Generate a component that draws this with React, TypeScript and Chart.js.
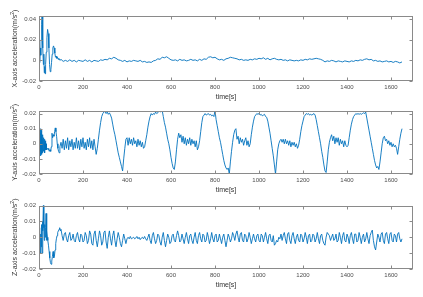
import React, { useEffect, useRef } from "react";
import { Chart, registerables } from "chart.js";

Chart.register(...registerables);

// ---------- data ----------
const xTickValues = [0, 200, 400, 600, 800, 1000, 1200, 1400, 1600];
const xTitle = "time[s]";

// X-axis acceleration
const xAccEarlyTimes = [0, 2, 4, 6, 8, 10, 12, 14, 16, 18, 20, 22, 24, 26, 28, 30, 33, 36, 39, 42, 45, 48, 51, 54, 57, 60, 63, 66, 69, 72, 75, 78, 81, 84, 87, 90, 95];
const xAccEarly = [0.002, 0.008, -0.002, 0.012, 0.005, 0.02, 0.035, 0.045, 0.03, 0.012, -0.004, 0.006, -0.012, -0.006, -0.013, -0.004,
  0.008, 0.022, 0.03, 0.026, 0.012, -0.004, -0.011, -0.009, -0.002, 0.006, 0.012, 0.014, 0.012, 0.007, 0.003, 0.004, 0.002, 0.003, 0.001, 0.002, 0.0];
// from t = 100 s, every 10 s
const xAccLate = [
  0.001, -0.001, 0.0, -0.001, 0.0005, -0.001, 0.0, -0.0015, 0.0, -0.0005,
  -0.001, 0.0005, -0.001, 0.0, -0.0015, 0.0, -0.0005, -0.001, 0.0005, 0.0,
  0.001, 0.0005, 0.002, 0.0015, 0.003, 0.002, 0.0005, 0.0, -0.001, 0.0,
  -0.0015, -0.0005, -0.001, 0.0, -0.0005, -0.001, 0.0, -0.0015, -0.001, -0.002,
  -0.0015, -0.002, -0.0005, 0.0, 0.0015, 0.001, 0.003, 0.0025, 0.0035, 0.002,
  0.0005, 0.0, 0.0005, -0.0005, 0.001, 0.0, 0.0005, -0.0005, 0.0, 0.001,
  0.0, 0.0005, -0.0005, 0.001, 0.0, 0.0015, 0.001, 0.003, 0.0035, 0.0025,
  0.003, 0.0015, 0.0005, 0.001, 0.0, 0.0015, 0.002, 0.003, 0.0025, 0.002,
  0.0015, 0.0005, 0.001, 0.0, 0.0005, 0.0, 0.001, 0.0005, 0.0015, 0.001,
  0.002, 0.0015, 0.0025, 0.001, 0.002, 0.0005, 0.0015, 0.002, 0.001, 0.0005,
  0.001, 0.0, 0.0005, -0.0005, 0.0005, 0.0, -0.0005, 0.0, -0.0005, 0.0005,
  0.0, 0.001, 0.0005, 0.0015, 0.001, 0.0015, 0.002, 0.0015, 0.001, 0.0,
  -0.0015, -0.0005, -0.001, 0.0, -0.0005, -0.0015, -0.0005, -0.001, -0.0015, -0.0005,
  -0.001, -0.0015, -0.0005, -0.001, 0.0, -0.0005, 0.0005, 0.0, 0.001, 0.0015,
  0.0005, 0.001, -0.0005, 0.0, -0.001, -0.0005, -0.0015, -0.001, -0.0005, -0.0015,
  -0.001, -0.002, -0.001, -0.0015, -0.0025, -0.0015,
];

// Y-axis acceleration
const yAccEarlyTimes = [0, 1, 2, 3, 4, 5, 6, 7, 8, 9, 10, 11, 12, 13, 14, 15, 16, 17, 18, 19, 20, 21, 22, 23, 24, 25, 26, 27, 28, 29, 30, 31, 32, 33, 34, 35,
  38, 41, 44, 47, 50, 53, 56, 59, 62, 65, 68, 71, 74, 77, 80, 83, 86, 89, 92, 95];
const yAccEarly = [0.002, -0.004, 0.006, -0.006, 0.008, -0.002, 0.01, -0.008, 0.004, -0.005, 0.007, -0.003, 0.009, -0.007, 0.003, -0.004, 0.006, -0.006,
  0.005, -0.002, 0.004, -0.005, 0.003, -0.003, 0.002, -0.004, 0.003, -0.006, 0.001, -0.003, 0.002, -0.004, 0.0, -0.003, -0.001, -0.004,
  -0.003, -0.004, -0.003, -0.005, -0.004, -0.005, -0.002, 0.007, 0.004, 0.006, 0.005, 0.008, 0.0105, 0.008, 0.005, 0.0, -0.003, -0.005, -0.006, -0.002];
// from t = 100 s, every 5 s
const yAccLate = [
  0.001, -0.003, 0.003, -0.004, 0.002, -0.003, 0.004, -0.004, 0.002, -0.002, 0.003, -0.004, 0.001, -0.003, 0.004, -0.003,
  0.002, -0.004, 0.003, -0.002, 0.004, -0.003, 0.001, -0.004, 0.003, -0.002, 0.004, -0.003, 0.002, -0.004, 0.003, -0.002,
  -0.007, -0.003, 0.003, 0.009, 0.014, 0.018, 0.02, 0.021,
  0.0215, 0.02, 0.021, 0.0195, 0.0205, 0.019,
  0.017, 0.013, 0.009, 0.006, 0.002, -0.002, -0.006, -0.009, -0.012, -0.015, -0.018,
  -0.01, -0.003, 0.003, 0.004, -0.001, 0.004, 0.0, 0.003, -0.001, 0.004, 0.0, 0.002, -0.002, 0.003, -0.001, 0.002, -0.002, 0.001, -0.003, -0.002,
  0.002, 0.006, 0.011, 0.015, 0.018, 0.02, 0.019,
  0.02, 0.0195, 0.021, 0.02, 0.0205, 0.022, 0.021, 0.0215, 0.022,
  0.018, 0.014, 0.011, 0.007, 0.003, 0.0, -0.004, -0.009, -0.013, -0.016, -0.017,
  -0.012, -0.004, 0.003, 0.007, 0.004, 0.006, 0.001, 0.005, 0.0, 0.004, -0.001, 0.003, 0.0, 0.004, -0.001, 0.003, 0.0, 0.002, -0.002, 0.002, -0.004, -0.002,
  0.002, 0.008, 0.014, 0.018, 0.019,
  0.02, 0.019, 0.0195, 0.02, 0.019, 0.0195, 0.0185, 0.019, 0.018, 0.022,
  0.016, 0.012, 0.008, 0.004, 0.001, -0.003, -0.007, -0.011, -0.014, -0.016, -0.017, -0.016, -0.02,
  -0.012, -0.005, 0.001, 0.006, 0.009, 0.01, 0.003, 0.005, 0.0, 0.004, 0.001, 0.003, -0.001, 0.002, 0.004, -0.001, 0.002, -0.002, 0.0,
  0.006, 0.011, 0.015, 0.018, 0.019,
  0.02, 0.0195, 0.02, 0.019, 0.0195, 0.0185, 0.019, 0.0195, 0.018, 0.0175,
  0.015, 0.011, 0.007, 0.002, -0.003, -0.008, -0.014, -0.02,
  -0.012, -0.004, 0.0, 0.002, 0.003, 0.001, 0.003, 0.0, 0.003, 0.0, 0.002, -0.001, 0.002, -0.002, 0.001, -0.001, 0.001, -0.002, 0.0, -0.003, -0.001,
  0.003, 0.008, 0.012, 0.015, 0.018, 0.019,
  0.02, 0.0195, 0.02, 0.019, 0.0195, 0.019, 0.0195, 0.02, 0.019,
  0.016, 0.012, 0.008, 0.004, 0.0, -0.005, -0.009, -0.014, -0.018,
  -0.019, -0.012, -0.004, 0.001, 0.004, 0.006, 0.002, 0.005, 0.0, 0.004, 0.001, 0.004, -0.001, 0.003, 0.0, 0.002, -0.002, 0.002, -0.001, -0.002, -0.001,
  0.004, 0.009, 0.013, 0.016, 0.018, 0.019,
  0.02, 0.0195, 0.02, 0.0195, 0.02, 0.0195, 0.02, 0.0205, 0.02, 0.021,
  0.017, 0.013, 0.009, 0.005, 0.001, -0.003, -0.007, -0.011, -0.014, -0.016, -0.015, -0.017,
  -0.012, -0.006, 0.0, 0.004, 0.005, 0.002, 0.003, 0.0, 0.002, -0.001, 0.001, -0.002, 0.0, -0.002, -0.001, -0.003, -0.007, -0.002, 0.003, 0.007, 0.01,
];

// Z-axis acceleration
const zAccEarlyTimes = [0, 2, 4, 6, 8, 10, 12, 14, 16, 18, 20, 22, 24, 26, 28, 30, 32, 34, 36, 38, 40,
  43, 46, 49, 52, 55, 58, 61, 64, 67, 70, 73, 76, 79, 82, 85, 88, 91, 94, 97];
const zAccEarly = [0.006, -0.008, 0.004, -0.01, 0.002, -0.006, 0.008, -0.01, 0.01, 0.004, 0.021, 0.006, -0.002, 0.008, 0.0, 0.006, 0.015, -0.002, 0.004, 0.0, -0.002,
  -0.005, -0.009, -0.013, -0.016, -0.017, -0.015, -0.012, -0.009, -0.013, -0.012, -0.008, -0.004, -0.001, 0.001, 0.003, 0.004, 0.005, 0.006, 0.004];
// from t = 100 s, every 5 s
const zAccLate = [
  0.005, 0.001, -0.002, 0.002, 0.003, -0.001, -0.003, 0.001, 0.003, -0.002, -0.001, 0.002, -0.002, -0.003, 0.001, 0.003, -0.001, -0.003, 0.002, 0.001,
  -0.003, -0.002, 0.003, 0.001, -0.004, -0.002, 0.004, 0.002, -0.004, -0.005, 0.002, 0.004, -0.002, -0.006, -0.001, 0.004, 0.001, -0.005, -0.003, 0.003,
  0.004, -0.003, -0.007, 0.0, 0.004, -0.001, -0.005, 0.001, 0.004, -0.002, -0.006, -0.001, 0.003, 0.0, -0.004, -0.006, -0.002, 0.002, -0.001, -0.004,
  -0.001, 0.0, -0.001, 0.0005, -0.001, -0.0005, 0.0, -0.001, -0.0005, 0.0005, -0.001, 0.0, -0.0015, -0.0005, 0.0, -0.001, 0.0005, -0.001, -0.002, 0.0,
  0.002, -0.002, -0.004, 0.001, 0.003, -0.001, -0.004, -0.002, 0.002, 0.001, -0.003, -0.005, 0.0, 0.003, -0.002, -0.006, -0.002, 0.002, 0.0, -0.004,
  -0.003, 0.001, 0.002, -0.002, -0.003, 0.001, 0.004, 0.001, -0.003, -0.002, 0.002, -0.001, -0.004, 0.0, 0.003, -0.001, -0.004, 0.001, 0.002, -0.002,
  -0.004, 0.0, 0.003, -0.002, -0.004, 0.001, 0.003, -0.001, -0.003, 0.002, 0.001, -0.003, -0.002, 0.003, 0.0, -0.004, -0.001, 0.003, -0.001, -0.003,
  0.001, 0.002, -0.003, -0.002, 0.002, -0.001, -0.004, 0.0, 0.002, -0.002, -0.006, -0.002, 0.002, 0.0, -0.003, -0.001, 0.003, 0.001, -0.002, 0.002,
  0.004, 0.0, -0.003, 0.002, 0.003, -0.002, -0.003, 0.002, 0.001, -0.003, -0.001, 0.003, 0.0, -0.004, -0.001, 0.002, -0.001, -0.003, 0.001, 0.002,
  -0.002, -0.003, 0.002, 0.001, -0.003, 0.0, 0.003, -0.001, -0.004, 0.001, 0.002, -0.002, -0.003, 0.001, -0.005, -0.004, -0.002, -0.003, 0.0, -0.001,
  0.002, -0.002, 0.001, 0.003, -0.001, -0.004, 0.002, 0.003, -0.002, -0.004, 0.001, 0.003, -0.001, -0.004, 0.0, 0.002, -0.002, -0.003, 0.002, 0.001,
  -0.003, -0.001, 0.003, 0.0, -0.004, 0.001, 0.002, -0.003, -0.002, 0.002, 0.001, -0.003, -0.001, 0.003, -0.001, -0.004, 0.001, 0.002, -0.002, -0.004,
  -0.005, 0.0, 0.003, 0.002, 0.001, -0.002, 0.0, 0.002, -0.002, -0.001, 0.002, -0.003, -0.002, 0.003, 0.0, -0.004, 0.001, 0.003, -0.002, -0.003,
  0.002, 0.0, -0.004, 0.001, 0.003, -0.001, -0.004, 0.002, 0.002, -0.003, -0.002, 0.003, 0.0, -0.004, 0.0, 0.002, -0.003, -0.001, 0.003, -0.001,
  -0.004, 0.001, 0.003, 0.0045, -0.002, -0.006, -0.008, -0.003, 0.002, 0.0, -0.003, 0.002, 0.003, -0.002, -0.004, 0.002, 0.003, -0.001, -0.004, 0.002,
  0.003, -0.002, -0.003, 0.002, 0.001, -0.003, 0.002, 0.003, -0.001, -0.003, -0.001,
];

const yTitles = ["X-axis acceleration(m/s", "Y-axis acceleration(m/s", "Z-axis acceleration(m/s"];
const yTickValuesX = [-0.02, 0, 0.02, 0.04];
const yTickLabelsX = ["-0.02", "0", "0.02", "0.04"];
const yTickValuesYZ = [-0.02, -0.01, 0, 0.01, 0.02];
const yTickLabelsYZ = ["-0.02", "-0.01", "0", "0.01", "0.02"];

// ---------- style / layout ----------
const W = 423;
const H = 297;
const FONT = '"Liberation Sans", Arial, Helvetica, sans-serif';
const LINE = "#0072BD";
const BOX = "#8a8a8a";
const TICK_TXT = "#4d4d4d";
const TITLE_TXT = "#333333";
const X_AXIS_H = 12;

function buildPoints(earlyT: number[], earlyV: number[], late: number[], start: number, step: number) {
  const pts = earlyT.map((t, i) => ({ x: t, y: earlyV[i] }));
  late.forEach((v, i) => pts.push({ x: start + i * step, y: v }));
  return pts;
}

const panels = [
  { key: "x", title: yTitles[0], pts: () => buildPoints(xAccEarlyTimes, xAccEarly, xAccLate, 100, 10),
    yMin: -0.02, yMax: 0.043, ticks: yTickValuesX, labels: yTickLabelsX, top: 16, bottom: 81 },
  { key: "y", title: yTitles[1], pts: () => buildPoints(yAccEarlyTimes, yAccEarly, yAccLate, 100, 5),
    yMin: -0.02, yMax: 0.0217, ticks: yTickValuesYZ, labels: yTickLabelsYZ, top: 111, bottom: 174 },
  { key: "z", title: yTitles[2], pts: () => buildPoints(zAccEarlyTimes, zAccEarly, zAccLate, 100, 5),
    yMin: -0.02, yMax: 0.02, ticks: yTickValuesYZ, labels: yTickLabelsYZ, top: 205.5, bottom: 269 },
];

type PanelCfg = typeof panels[number];

function framePlugin(p: PanelCfg) {
  return {
    id: "frame_" + p.key,
    afterDraw(chart: any) {
      const { ctx, chartArea: a, scales } = chart;
      ctx.save();
      // box
      ctx.strokeStyle = BOX;
      ctx.lineWidth = 1;
      const l = Math.round(a.left) + 0.5, r = Math.round(a.right) - 0.5;
      const t = Math.round(a.top) + 0.5, b = Math.round(a.bottom) - 0.5;
      ctx.strokeRect(l, t, r - l, b - t);
      // inward ticks
      ctx.beginPath();
      xTickValues.forEach((v) => {
        const x = Math.round(scales.x.getPixelForValue(v)) + 0.5;
        ctx.moveTo(x, b); ctx.lineTo(x, b - 3);
        ctx.moveTo(x, t); ctx.lineTo(x, t + 3);
      });
      p.ticks.forEach((v) => {
        const y = Math.round(scales.y.getPixelForValue(v)) + 0.5;
        ctx.moveTo(l, y); ctx.lineTo(l + 3, y);
        ctx.moveTo(r, y); ctx.lineTo(r - 3, y);
      });
      ctx.stroke();
      // x title
      ctx.fillStyle = TITLE_TXT;
      ctx.font = `7px ${FONT}`;
      ctx.textAlign = "center";
      ctx.textBaseline = "middle";
      ctx.fillText(xTitle, (a.left + a.right) / 2, a.bottom + 16);
      // y title with superscript
      ctx.translate(15.5, (a.top + a.bottom) / 2);
      ctx.rotate(-Math.PI / 2);
      ctx.font = `7px ${FONT}`;
      const w1 = ctx.measureText(p.title).width;
      const w3 = ctx.measureText(")").width;
      ctx.font = `5px ${FONT}`;
      const w2 = ctx.measureText("2").width;
      const total = w1 + w2 + w3;
      let x0 = -total / 2;
      ctx.textAlign = "left";
      ctx.font = `7px ${FONT}`;
      ctx.fillText(p.title, x0, 0);
      ctx.font = `5px ${FONT}`;
      ctx.fillText("2", x0 + w1, -2.5);
      ctx.font = `7px ${FONT}`;
      ctx.fillText(")", x0 + w1 + w2, 0);
      ctx.restore();
    },
  };
}

function Panel({ p }: { p: PanelCfg }) {
  const ref = useRef<HTMLCanvasElement | null>(null);
  useEffect(() => {
    if (!ref.current) return;
    const chart = new Chart(ref.current, {
      type: "line",
      data: {
        datasets: [
          {
            data: p.pts(),
            borderColor: LINE,
            borderWidth: 0.9,
            pointRadius: 0,
            tension: 0,
            fill: false,
          },
        ],
      },
      options: {
        animation: false,
        responsive: false,
        parsing: false,
        events: [],
        layout: { padding: { left: 0, right: 10, top: p.top, bottom: H - p.bottom - X_AXIS_H } },
        plugins: { legend: { display: false }, tooltip: { enabled: false }, title: { display: false } },
        scales: {
          x: {
            type: "linear",
            min: 0,
            max: 1700,
            grid: { display: false, drawTicks: false },
            border: { display: false },
            afterBuildTicks: (axis: any) => {
              axis.ticks = xTickValues.map((v) => ({ value: v }));
            },
            afterFit: (axis: any) => {
              axis.height = X_AXIS_H;
            },
            ticks: {
              padding: 3,
              maxRotation: 0,
              autoSkip: false,
              color: TICK_TXT,
              font: { family: FONT, size: 6 },
              callback: (v: any) => String(v),
            },
          },
          y: {
            type: "linear",
            min: p.yMin,
            max: p.yMax,
            grid: { display: false, drawTicks: false },
            border: { display: false },
            afterBuildTicks: (axis: any) => {
              axis.ticks = p.ticks.map((v) => ({ value: v }));
            },
            afterFit: (axis: any) => {
              axis.width = 39;
            },
            ticks: {
              padding: 3,
              autoSkip: false,
              color: TICK_TXT,
              font: { family: FONT, size: 6 },
              callback: (_v: any, i: number) => p.labels[i],
            },
          },
        },
      },
      plugins: [framePlugin(p)],
    } as any);
    return () => chart.destroy();
  }, []);
  return (
    <canvas
      ref={ref}
      width={W}
      height={H}
      style={{ position: "absolute", left: 0, top: 0, width: W, height: H }}
    />
  );
}

export default function App() {
  return (
    <div style={{ position: "fixed", left: 0, top: 0, width: W, height: H, background: "#ffffff" }}>
      {panels.map((p) => (
        <Panel key={p.key} p={p} />
      ))}
    </div>
  );
}
